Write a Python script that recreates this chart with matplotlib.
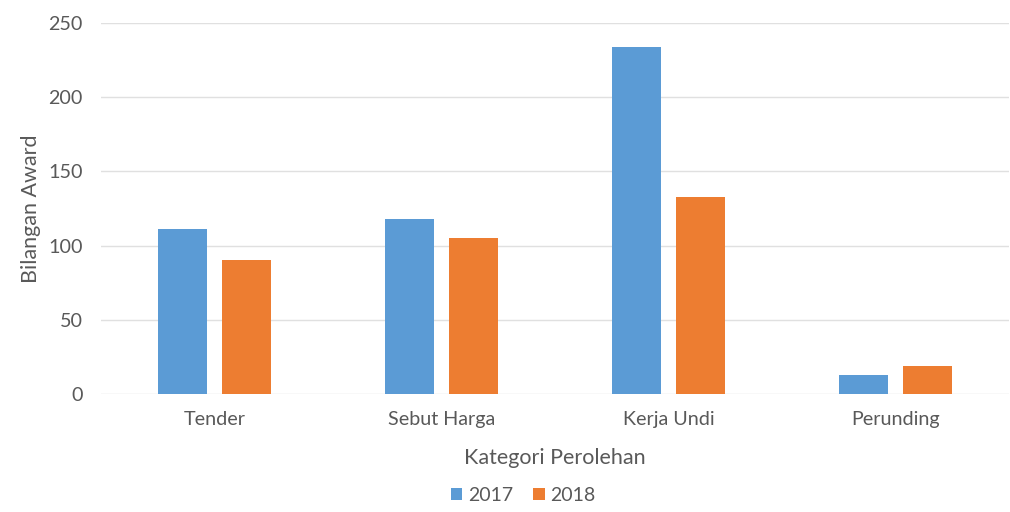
import numpy as np
import matplotlib.pyplot as plt

plt.rcParams['font.family'] = ['Lato', 'DejaVu Sans']

categories = ['Tender', 'Sebut Harga', 'Kerja Undi', 'Perunding']
award_2017 = [111, 118, 234, 13]
award_2018 = [90, 105, 133, 19]

blue = '#5B9BD5'
orange = '#ED7D31'
text_col = '#595959'

fig = plt.figure(figsize=(10.1, 5.12), dpi=100)
ax = fig.add_axes([0.1, 0.2305, 0.899, 0.7245])

x = np.arange(len(categories))
w = 0.22
off = 0.141
ax.bar(x - off, award_2017, w, color=blue, label='2017', zorder=3)
ax.bar(x + off, award_2018, w, color=orange, label='2018', zorder=3)

ax.set_xlim(-0.5, len(categories) - 0.5)
ax.set_ylim(0, 250)
ax.set_yticks(range(0, 251, 50))
ax.set_xticks(x)
ax.set_xticklabels(categories)
ax.grid(axis='y', color='#E0E0E0', linewidth=1, zorder=0)
for s in ax.spines.values():
    s.set_visible(False)
ax.tick_params(axis='both', length=0, colors=text_col, labelsize=14.2)
ax.tick_params(axis='x', pad=12)
ax.tick_params(axis='y', pad=13)

ax.set_xlabel('Kategori Perolehan', color=text_col, fontsize=15.5, labelpad=15)
ax.set_ylabel('Bilangan Award', color=text_col, fontsize=15.5)
ax.yaxis.set_label_coords(-0.066, 0.5)

fig.legend(loc='center', bbox_to_anchor=(0.518, 0.032), ncol=2, frameon=False,
           fontsize=14, handlelength=0.6, handleheight=0.6, handletextpad=0.3,
           columnspacing=1.0, labelcolor=text_col)

fig.savefig('out.png', dpi=100)
